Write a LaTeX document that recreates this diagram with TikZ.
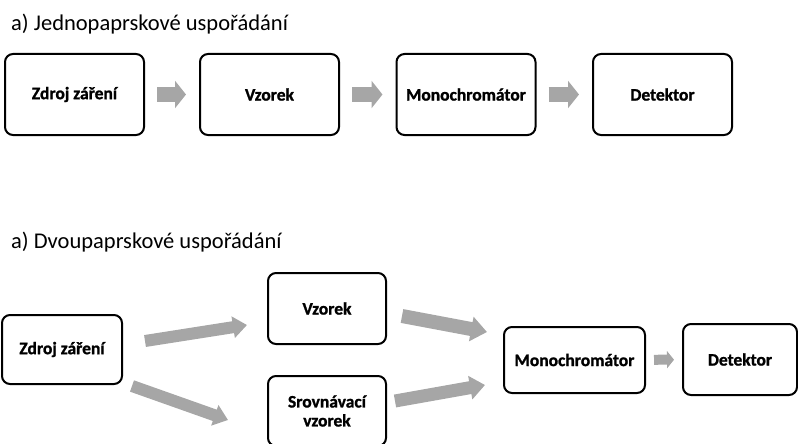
\documentclass[tikz,border=0pt]{standalone}
\usepackage{fontspec}
\setmainfont{Carlito}[BoldFeatures={FakeBold=1.2}]
\usepackage{tikz}
\usetikzlibrary{calc}
\usetikzlibrary{arrows.meta}
\definecolor{sedasipka}{RGB}{166,166,166}

\begin{document}
\begin{tikzpicture}[x=1pt,y=-1pt]
			\tikzstyle{every node}=[font=\fontsize{17.5}{19}\selectfont\bfseries]
			\tikzstyle{blok}=[draw=black, line width=2pt, rounded corners=8pt, align=center, inner sep=0pt]
			\tikzstyle{titulek}=[anchor=base west, inner sep=0pt, font=\fontsize{22.5}{24}\selectfont]
			\tikzstyle{sipka}=[draw=sedasipka, line width=15pt, -{Triangle[length=11pt,width=27pt]}]
			\tikzstyle{sipkaB}=[draw=sedasipka, line width=12pt, -{Triangle[length=14pt,width=21pt]}]
			\tikzstyle{sipkaC}=[draw=sedasipka, line width=10pt, -{Triangle[length=7pt,width=17pt]}]
			\useasboundingbox (0,0) rectangle (798,444);
			
			% jednopaprskove
			\node[titulek] (tit1) at (11,31) {a) Jednopaprskové uspořádání};
			\node[blok, minimum width=139pt, minimum height=81pt] (zdrojA) at (74.5,94.5) {Zdroj záření};
			\node[blok, minimum width=139pt, minimum height=81pt] (vzorekA) at (269.5,94.5) {Vzorek};
			\node[blok, minimum width=139pt, minimum height=81pt] (monoA) at (466,94.5) {Monochromátor};
			\node[blok, minimum width=139pt, minimum height=81pt] (detA) at (662.5,94.5) {Detektor};
			
			\draw[sipka, shorten <=12pt, shorten >=13pt] (zdrojA) -- (vzorekA);
			\draw[sipka, shorten <=12pt, shorten >=13pt] (vzorekA) -- (monoA);
			\draw[sipka, shorten <=12pt, shorten >=13pt] (monoA) -- (detA);
			
			% dvoupaprskove
			\node[titulek] (tit2) at (11,248) {a) Dvoupaprskové uspořádání};
			\node[blok, minimum width=120pt, minimum height=69pt] (zdrojB) at (62,349.5) {Zdroj záření};
			\node[blok, minimum width=118pt, minimum height=71pt] (vzorekB) at (327,308.5) {Vzorek};
			\node[blok, minimum width=118pt, minimum height=70pt] (srovB) at (327,411) {Srovnávací\\vzorek};
			\node[blok, minimum width=141pt, minimum height=66pt] (monoB) at (574.5,360) {Monochromátor};
			\node[blok, minimum width=114pt, minimum height=71pt] (detB) at (740,359.5) {Detektor};
			
			\draw[sipkaB] ($(zdrojB.east)+(22,-8.5)$) -- ($(vzorekB.west)+(-20,16.5)$);
			\draw[sipkaB] ($(zdrojB.south east)+(9,1)$) -- ($(srovB.west)+(-39,9)$);
			\draw[sipkaB, line width=14pt, -{Triangle[length=16pt,width=24pt]}] ($(vzorekB.east)+(15,7.5)$) -- ($(monoB.west)+(-16,-28)$);
			\draw[sipkaB, line width=13pt, -{Triangle[length=15pt,width=23pt]}] ($(srovB.east)+(8,-10)$) -- ($(monoB.west)+(-18,25)$);
			\draw[sipkaC, shorten <=8pt, shorten >=8pt] (monoB) -- (detB);
			
			\end{tikzpicture}
\end{document}
